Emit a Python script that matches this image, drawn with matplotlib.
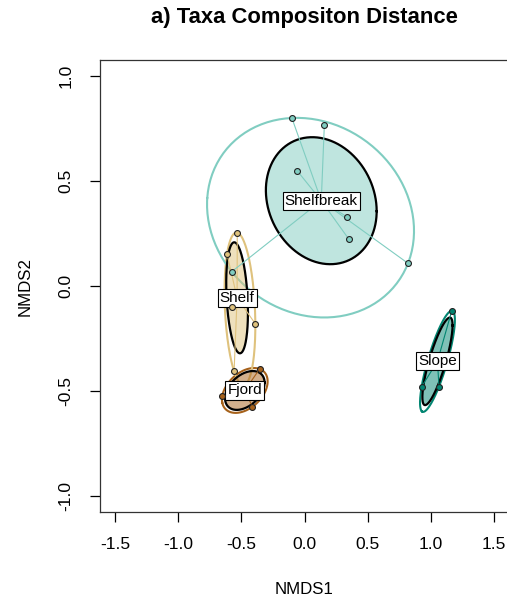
import numpy as np
import matplotlib
matplotlib.use("Agg")
import matplotlib.pyplot as plt

plt.rcParams["font.family"] = ["Liberation Sans", "DejaVu Sans"]

# NMDS site scores per habitat group
fjord_x = [-0.355, -0.650, -0.412]
fjord_y = [-0.395, -0.522, -0.575]
shelf_x = [-0.532, -0.613, -0.576, -0.389, -0.557]
shelf_y = [0.254, 0.152, -0.101, -0.180, -0.406]
shelfbreak_x = [-0.100, 0.157, -0.057, 0.334, 0.352, 0.819, -0.576]
shelfbreak_y = [0.800, 0.767, 0.548, 0.330, 0.222, 0.108, 0.068]
slope_x = [1.165, 0.927, 1.064]
slope_y = [-0.118, -0.479, -0.479]

groups = ["Fjord", "Shelf", "Shelfbreak", "Slope"]
colors = ["#a6611a", "#dfc27d", "#80cdc1", "#018571"]   # BrBG 4
scores = {
    "Fjord": (fjord_x, fjord_y),
    "Shelf": (shelf_x, shelf_y),
    "Shelfbreak": (shelfbreak_x, shelfbreak_y),
    "Slope": (slope_x, slope_y),
}

t = np.linspace(0, 2 * np.pi, 200)
circle = np.vstack([np.cos(t), np.sin(t)])


def sd_ellipse(x, y):
    pts = np.column_stack([x, y])
    c = pts.mean(axis=0)
    L = np.linalg.cholesky(np.cov(pts.T))
    e = c[:, None] + L @ circle
    return e[0], e[1]


def ellipsoid_hull(x, y, tol=1e-6, max_iter=20000):
    # minimum-volume enclosing ellipse (Khachiyan), then grown to hold every point
    P = np.column_stack([x, y])
    n, d = P.shape
    Q = np.vstack([P.T, np.ones(n)])
    u = np.ones(n) / n
    for _ in range(max_iter):
        X = (Q * u) @ Q.T
        M = np.einsum("ij,ji->i", Q.T @ np.linalg.inv(X), Q)
        j = np.argmax(M)
        step = (M[j] - d - 1) / ((d + 1) * (M[j] - 1))
        new_u = (1 - step) * u
        new_u[j] += step
        done = np.linalg.norm(new_u - u) < tol
        u = new_u
        if done:
            break
    c = P.T @ u
    A = np.linalg.inv((P.T * u) @ P - np.outer(c, c)) / d
    D = P - c
    A = A / np.max(np.einsum("ij,jk,ik->i", D, A, D))
    w, V = np.linalg.eigh(A)
    e = c[:, None] + V @ np.diag(1 / np.sqrt(w)) @ circle
    return e[0], e[1]


fig = plt.figure(figsize=(5.07, 6.01), dpi=100)
ax = fig.add_axes([100 / 507, 89 / 601, 409 / 507, 452 / 601])

# outer hulls
for g, col in zip(groups, colors):
    x, y = scores[g]
    hx, hy = ellipsoid_hull(x, y)
    ax.plot(hx, hy, color=col, lw=1.5, zorder=1)

# 1-sd ellipses, filled
for g, col in zip(groups, colors):
    x, y = scores[g]
    ex, ey = sd_ellipse(x, y)
    ax.fill(ex, ey, color=col, alpha=0.5, lw=0, zorder=2)
    ax.plot(ex, ey, color="black", lw=1.6, zorder=3)

# spiders + centroid labels
for g, col in zip(groups, colors):
    x, y = scores[g]
    cx, cy = np.mean(x), np.mean(y)
    for px, py in zip(x, y):
        ax.plot([cx, px], [cy, py], color=col, lw=0.8, zorder=4)
    ax.text(cx, cy, g, ha="center", va="center", fontsize=11, zorder=5,
            bbox=dict(boxstyle="square,pad=0.14", fc="white", ec="black", lw=0.8))

for g, col in zip(groups, colors):
    x, y = scores[g]
    ax.scatter(x, y, s=18, c=col, edgecolors="#222222", linewidths=0.8, zorder=6)

ax.set_xlim(-1.618, 1.618)
ax.set_ylim(-1.076, 1.076)
ax.set_xticks([-1.5, -1.0, -0.5, 0.0, 0.5, 1.0, 1.5])
ax.set_yticks([-1.0, -0.5, 0.0, 0.5, 1.0])
ax.xaxis.set_major_formatter(matplotlib.ticker.FormatStrFormatter("%.1f"))
ax.yaxis.set_major_formatter(matplotlib.ticker.FormatStrFormatter("%.1f"))
ax.tick_params(direction="out", length=7, width=0.9, labelsize=12.5, pad=11)
ax.tick_params(axis="y", labelrotation=90, pad=12)
for lab in ax.get_yticklabels():
    lab.set_va("center")
for s in ax.spines.values():
    s.set_linewidth(0.9)
    s.set_color("#333333")

fig.text(304.5 / 507, 1 - 18 / 601, "a) Taxa Compositon Distance",
         ha="center", va="center", fontsize=15.8, fontweight="bold")
fig.text(304.5 / 507, 1 - 590 / 601, "NMDS1", ha="center", va="center", fontsize=12.2)
fig.text(25 / 507, 1 - 286 / 601, "NMDS2", ha="center", va="center",
         fontsize=12.2, rotation=90)

fig.savefig("out.png", dpi=100)
